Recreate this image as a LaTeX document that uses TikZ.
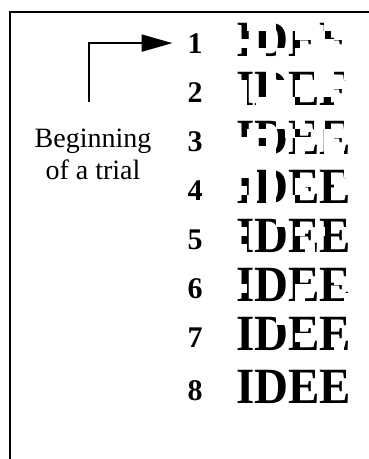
\documentclass[tikz,border=0pt]{standalone}
\usepackage{fontspec}
\setmainfont{Liberation Serif}
\usetikzlibrary{arrows.meta,positioning,calc}

\begin{document}
\begin{tikzpicture}[x=1pt,y=-1pt,line width=2pt,>={Triangle[length=31pt,width=17pt]},
  num/.style={font=\fontsize{30}{36}\selectfont\bfseries,inner sep=0pt,anchor=base},
  word/.style={font=\fontsize{47}{56}\selectfont\bfseries,inner sep=0pt,anchor=base west}]
\newcommand{\tallword}{\scalebox{1}[1.08]{IDEE}}
\useasboundingbox (0,0) rectangle (369,459);
\draw (10,459) -- (10,12) -- (369,12);
\node[num] (n1) at (195,53) {1};
\node[word] (w1) at (235,56) {\tallword};
\node[num] (n2) at (195,102) {2};
\node[word] (w2) at (235,105) {\tallword};
\node[num] (n3) at (195,151) {3};
\node[word] (w3) at (235,154) {\tallword};
\node[num] (n4) at (195,200) {4};
\node[word] (w4) at (235,203) {\tallword};
\node[num] (n5) at (195,249) {5};
\node[word] (w5) at (235,252) {\tallword};
\node[num] (n6) at (195,298) {6};
\node[word] (w6) at (235,301) {\tallword};
\node[num] (n7) at (195,347) {7};
\node[word] (w7) at (235,350) {\tallword};
\node[num] (n8) at (195,400) {8};
\node[word] (w8) at (235,403) {\tallword};
% hide parts of the word, less on every trial
\pgfmathsetseed{11}
\foreach \r/\p in {1/0.55,2/0.5,3/0.4,4/0.3,5/0.18,6/0.09,7/0.04}{
  \foreach \c in {0,...,11}{
    \foreach \k in {0,...,3}{
      \pgfmathtruncatemacro{\hide}{rnd<\p}
      \ifnum\hide=1
        \fill[white] ($(w\r.base west)+(\c*9.7+1.8,-34+\k*8.75-0.2)$) rectangle ++(10.1,9.15);
      \fi
    }}}
\node[font=\fontsize{28}{32}\selectfont,align=center] (lbl) at (93,154) {Beginning\\of a trial};
\coordinate (start) at (89,102);
\draw[->] (start) |- ([xshift=-14pt]n1.west);
\end{tikzpicture}
\end{document}
